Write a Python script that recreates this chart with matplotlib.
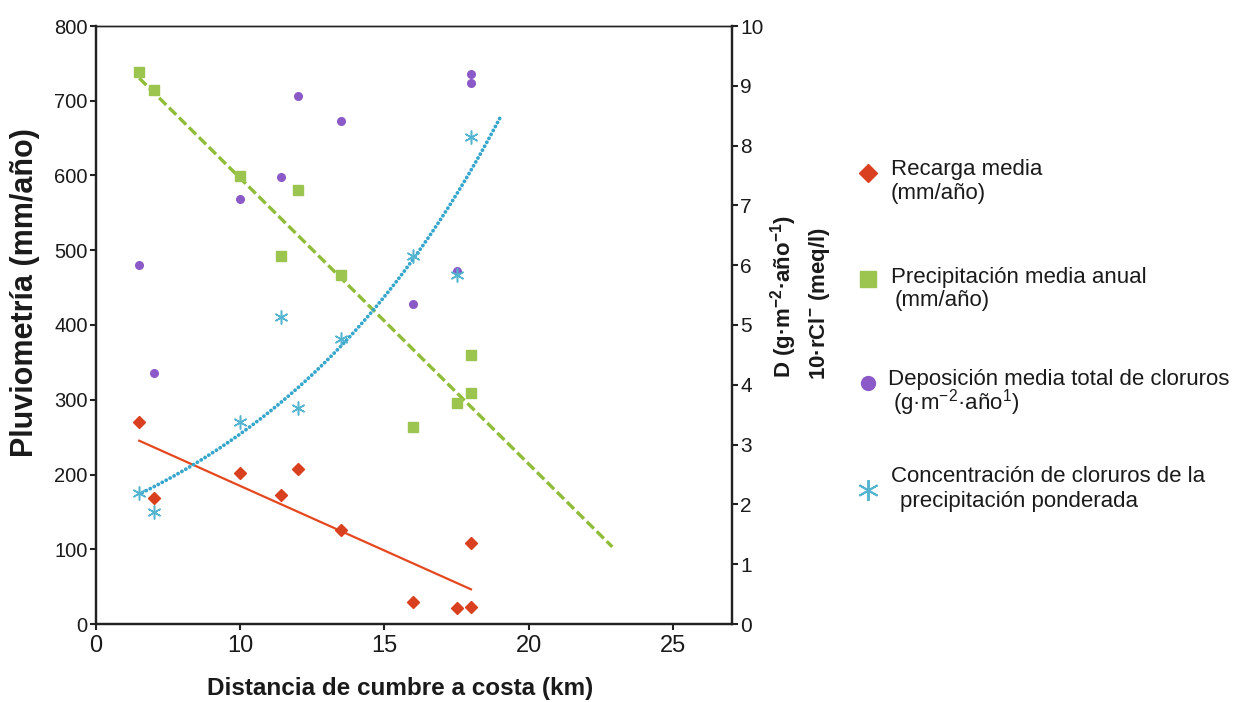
import numpy as np
import matplotlib
matplotlib.use("Agg")
import matplotlib.pyplot as plt
from matplotlib.ticker import FixedLocator

plt.rcParams['font.family'] = ['Liberation Sans', 'DejaVu Sans']
plt.rcParams['mathtext.default'] = 'regular'
FAM = ['Liberation Sans', 'DejaVu Sans']

# ---------------- data ----------------
distancia = [6.5, 7.0, 10.0, 11.4, 12.0, 13.5, 16.0, 17.5, 18.0, 18.0]
recarga = [270, 169, 202, 173, 208, 126, 30, 21, 23, 108]            # mm/año
precipitacion = [739, 715, 599, 492, 581, 467, 263, 296, 360, 309]   # mm/año
deposicion = [6.01, 4.20, 7.11, 7.48, 8.83, 8.41, 5.35, 5.90, 9.05, 9.19]  # g·m-2·año-1

dist_cl = [6.5, 7.0, 10.0, 11.4, 12.0, 13.5, 16.0, 17.5, 18.0]
conc_cl = [2.19, 1.87, 3.38, 5.14, 3.62, 4.76, 6.16, 5.83, 8.14]    # 10·rCl (meq/l)

# extents of the trend lines
rango_recarga = [6.5, 18.0]
rango_precip = [6.5, 22.9]
rango_cl = [6.6, 19.0]

# x axis: "0" drawn at the 5 km slot
xtick_pos = [5, 10, 15, 20, 25]
xtick_lab = ['0', '10', '15', '20', '25']
yleft_ticks = list(range(0, 801, 100))
yright_ticks = list(range(0, 11))

# ---------------- colours ----------------
C_RED = '#d9401f'
C_RED_L = '#e4481f'
C_GREEN = '#9cc54f'
C_GREEN_L = '#8fbd3a'
C_PURPLE = '#8c5ac8'
C_CYAN = '#55b4cf'
C_CYAN_L = '#36a6cc'
C_TXT = '#1a1a1a'

W, H = 1239, 702
fig = plt.figure(figsize=(W / 100, H / 100), dpi=100)
ax = fig.add_axes([96 / W, 1 - 624 / H, (732 - 96) / W, (624 - 26) / H])
ax2 = ax.twinx()

# trend lines (fitted to the data)
xr = np.array(rango_recarga)
p = np.polyfit(distancia, recarga, 1)
ax.plot(xr, np.polyval(p, xr), color=C_RED_L, lw=1.6, zorder=2)

xp = np.array(rango_precip)
p2 = np.polyfit(distancia, precipitacion, 1)
ax.plot(xp, np.polyval(p2, xp), color=C_GREEN_L, lw=2.4, ls=(0, (3, 1.2)), zorder=2)

pc = np.polyfit(dist_cl, np.log(conc_cl), 1)
xc = np.linspace(rango_cl[0], rango_cl[1], 200)
ax2.plot(xc, np.exp(np.polyval(pc, xc)), color=C_CYAN_L, lw=2.7,
         ls=(0, (0.05, 1.15)), dash_capstyle='round', solid_capstyle='round', zorder=2)

# markers
ax.plot(distancia, precipitacion, ls='none', marker='s', ms=7.3, color=C_GREEN, zorder=3)
ax.plot(distancia, recarga, ls='none', marker='D', ms=6, color=C_RED, zorder=3)
ax2.plot(distancia, deposicion, ls='none', marker='o', ms=5.5, color=C_PURPLE, zorder=3)
ax2.plot(dist_cl, conc_cl, ls='none', marker=(6, 2, 0), ms=10, mew=1.1, color=C_CYAN, zorder=4)

# axes
ax.set_xlim(5, 27.05)
ax.set_ylim(0, 800)
ax2.set_ylim(0, 10)
ax.xaxis.set_major_locator(FixedLocator(xtick_pos))
ax.set_xticklabels(xtick_lab, fontsize=17, family=FAM)
ax.set_yticks(yleft_ticks)
ax.set_yticklabels([str(v) for v in yleft_ticks], fontsize=14.5)
ax2.set_yticks(yright_ticks)
ax2.set_yticklabels([str(v) for v in yright_ticks], fontsize=15)

for a in (ax, ax2):
    a.tick_params(direction='out', length=4, width=1.5, pad=2, color='#222222', labelcolor=C_TXT)
    for s in a.spines.values():
        s.set_color('#222222')
    a.spines['left'].set_linewidth(1.6)
    a.spines['bottom'].set_linewidth(1.6)
    a.spines['right'].set_linewidth(1.6)
    a.spines['top'].set_linewidth(1.0)
ax.tick_params(axis='x', pad=4)

# axis titles
fig.text(25 / W, 1 - 293 / H, 'Pluviometría (mm/año)', rotation=90, ha='center', va='center',
         fontsize=22, fontweight='bold', family=FAM, color=C_TXT)
fig.text(400 / W, 1 - 688 / H, 'Distancia de cumbre a costa (km)', ha='center', va='center',
         fontsize=17.5, fontweight='bold', family=FAM, color=C_TXT)
fig.text(784 / W, 1 - 378 / H, r'D (g·m$^{-2}$·año$^{-1}$)', rotation=90,
         rotation_mode='anchor', ha='left', va='center',
         fontsize=16, fontweight='bold', family=FAM, color=C_TXT)
fig.text(820 / W, 1 - 380 / H, r'10·rCl$^{-}$ (meq/l)', rotation=90,
         rotation_mode='anchor', ha='left', va='center',
         fontsize=16, fontweight='bold', family=FAM, color=C_TXT)

# legend (drawn by hand)
leg_fs = 16
def fx(px):
    return px / W
def fy(py):
    return 1 - py / H

fig.lines.append(plt.Line2D([fx(868)], [fy(173)], transform=fig.transFigure, ls='none',
                            marker='D', ms=9, color=C_RED))
fig.text(fx(891), fy(170), 'Recarga media', ha='left', va='center', fontsize=leg_fs, color=C_TXT)
fig.text(fx(891), fy(193), '(mm/año)', ha='left', va='center', fontsize=leg_fs, color=C_TXT)

fig.lines.append(plt.Line2D([fx(868)], [fy(279)], transform=fig.transFigure, ls='none',
                            marker='s', ms=12, color=C_GREEN))
fig.text(fx(891), fy(278), 'Precipitación media anual', ha='left', va='center', fontsize=leg_fs, color=C_TXT)
fig.text(fx(895), fy(301), '(mm/año)', ha='left', va='center', fontsize=leg_fs, color=C_TXT)

fig.lines.append(plt.Line2D([fx(868)], [fy(383)], transform=fig.transFigure, ls='none',
                            marker='o', ms=10, color=C_PURPLE))
fig.text(fx(888), fy(380), 'Deposición media total de cloruros', ha='left', va='center',
         fontsize=leg_fs, color=C_TXT)
fig.text(fx(893), fy(403), r'(g·m$^{-2}$·año$^{1}$)', ha='left', va='center', fontsize=leg_fs, color=C_TXT)

fig.lines.append(plt.Line2D([fx(868)], [fy(490)], transform=fig.transFigure, ls='none',
                            marker=(6, 2, 0), ms=15, mew=1.4, color=C_CYAN))
fig.text(fx(891), fy(477), 'Concentración de cloruros de la', ha='left', va='center',
         fontsize=leg_fs, color=C_TXT)
fig.text(fx(900), fy(501), 'precipitación ponderada', ha='left', va='center', fontsize=leg_fs, color=C_TXT)

fig.savefig('out.png', dpi=100, facecolor='white')
